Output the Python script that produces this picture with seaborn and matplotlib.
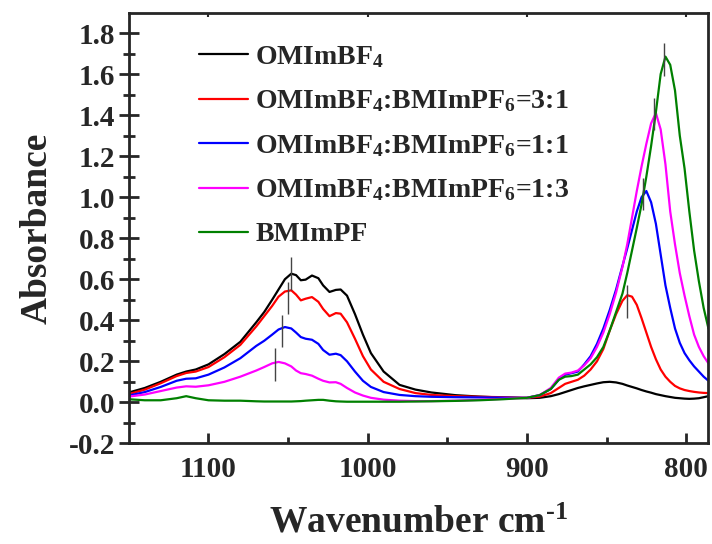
import numpy as np
import pandas as pd
import seaborn as sns
import matplotlib.pyplot as plt

# wavenumber grid (cm-1) shared by all spectra
wavenumber = [1150, 1140, 1130, 1120, 1114, 1108, 1100, 1090, 1080, 1070, 1065, 1060,
              1056, 1052, 1048, 1045, 1042, 1039, 1035, 1031, 1028, 1024, 1020, 1017,
              1013, 1008, 1003, 998, 990, 980, 970, 960, 945, 930, 915, 900, 892, 885,
              880, 876, 872, 868, 864, 860, 856, 852, 848, 844, 840, 837, 834, 831,
              828, 825, 822, 819, 816, 813, 810, 807, 804, 801, 798, 795, 792, 789, 786]

omimbf4 = [0.048, 0.07, 0.10, 0.135, 0.15, 0.16, 0.185, 0.235, 0.295, 0.39, 0.44, 0.50,
           0.55, 0.60, 0.627, 0.62, 0.595, 0.598, 0.618, 0.605, 0.57, 0.538, 0.548, 0.55,
           0.52, 0.43, 0.33, 0.24, 0.15, 0.085, 0.062, 0.048, 0.035, 0.028, 0.023, 0.02, 0.022, 0.03,
           0.04, 0.05, 0.06, 0.07, 0.078, 0.085, 0.092, 0.098, 0.10, 0.097, 0.09, 0.082, 0.075, 0.068,
           0.06, 0.053, 0.047, 0.04, 0.035, 0.03, 0.026, 0.022, 0.02, 0.018, 0.017, 0.018, 0.02, 0.025, 0.03]

mix_3_1 = [0.04, 0.062, 0.093, 0.128, 0.143, 0.15, 0.172, 0.22, 0.28, 0.37, 0.42, 0.47,
           0.515, 0.54, 0.546, 0.525, 0.497, 0.505, 0.513, 0.49, 0.455, 0.42, 0.435, 0.432,
           0.39, 0.31, 0.225, 0.16, 0.10, 0.065, 0.045, 0.036, 0.03, 0.027, 0.025, 0.022, 0.028, 0.045,
           0.07, 0.09, 0.10, 0.11, 0.13, 0.16, 0.20, 0.26, 0.35, 0.43, 0.495, 0.522, 0.515, 0.475,
           0.41, 0.34, 0.27, 0.21, 0.16, 0.125, 0.10, 0.08, 0.068, 0.06, 0.055, 0.051, 0.048, 0.046, 0.045]

mix_1_1 = [0.033, 0.05, 0.075, 0.105, 0.115, 0.117, 0.135, 0.17, 0.215, 0.275, 0.30, 0.33,
           0.355, 0.367, 0.36, 0.34, 0.318, 0.31, 0.305, 0.285, 0.255, 0.232, 0.237, 0.23,
           0.20, 0.15, 0.105, 0.075, 0.05, 0.036, 0.03, 0.027, 0.025, 0.024, 0.023, 0.022, 0.035, 0.065,
           0.11, 0.135, 0.142, 0.15, 0.185, 0.225, 0.285, 0.36, 0.45, 0.55, 0.665, 0.75, 0.84, 0.93,
           1.0, 1.03, 0.975, 0.87, 0.72, 0.57, 0.46, 0.36, 0.29, 0.24, 0.205, 0.175, 0.15, 0.125, 0.105]

mix_1_3 = [0.028, 0.038, 0.055, 0.072, 0.078, 0.076, 0.083, 0.10, 0.125, 0.155, 0.172, 0.19,
           0.197, 0.19, 0.175, 0.155, 0.142, 0.138, 0.13, 0.115, 0.105, 0.097, 0.098, 0.09,
           0.07, 0.048, 0.033, 0.022, 0.013, 0.008, 0.006, 0.006, 0.008, 0.012, 0.017, 0.022, 0.035, 0.07,
           0.12, 0.14, 0.145, 0.155, 0.18, 0.215, 0.27, 0.34, 0.43, 0.535, 0.66, 0.77, 0.90, 1.03,
           1.15, 1.26, 1.36, 1.41, 1.33, 1.16, 0.93, 0.77, 0.63, 0.52, 0.42, 0.33, 0.27, 0.225, 0.19]

bmimpf = [0.015, 0.01, 0.01, 0.02, 0.03, 0.02, 0.01, 0.008, 0.008, 0.005, 0.004, 0.004,
          0.004, 0.004, 0.004, 0.005, 0.006, 0.008, 0.01, 0.012, 0.012, 0.008, 0.005, 0.004,
          0.003, 0.003, 0.003, 0.003, 0.003, 0.003, 0.004, 0.005, 0.007, 0.01, 0.015, 0.022, 0.035, 0.065,
          0.11, 0.125, 0.128, 0.135, 0.16, 0.185, 0.22, 0.27, 0.35, 0.44, 0.53, 0.63, 0.74, 0.85,
          0.965, 1.10, 1.25, 1.415, 1.60, 1.685, 1.645, 1.52, 1.30, 1.14, 0.93, 0.74, 0.59, 0.46, 0.36]

labels = [r'OMImBF$_4$', r'OMImBF$_4$:BMImPF$_6$=3:1', r'OMImBF$_4$:BMImPF$_6$=1:1',
          r'OMImBF$_4$:BMImPF$_6$=1:3', 'BMImPF']
colors = ['black', '#ff0000', '#0000ff', '#ff00ff', '#008000']

# peak position markers
peak_x = [1048, 1050, 1054, 1058, 814, 820, 827, 837]
peak_lo = [0.549, 0.432, 0.272, 0.106, 1.591, 1.327, 0.936, 0.41]
peak_hi = [0.708, 0.586, 0.428, 0.266, 1.751, 1.482, 1.091, 0.57]

sns.set_style('ticks')
plt.rcParams['font.family'] = ['Liberation Serif', 'DejaVu Serif']
plt.rcParams['font.weight'] = 'bold'
plt.rcParams['mathtext.fontset'] = 'custom'
plt.rcParams['mathtext.rm'] = 'Liberation Serif:bold'
plt.rcParams['mathtext.it'] = 'Liberation Serif:bold'
plt.rcParams['mathtext.bf'] = 'Liberation Serif:bold'
plt.rcParams['axes.unicode_minus'] = False

fig = plt.figure(figsize=(7.12, 5.44), dpi=100)
ax = fig.add_axes([0.181, 0.185, 0.814, 0.792])

series = [omimbf4, mix_3_1, mix_1_1, mix_1_3, bmimpf]
for ys, lab, c in zip(series, labels, colors):
    sns.lineplot(x=wavenumber, y=ys, color=c, label=lab, lw=1.6, ax=ax, sort=False)

ax.vlines(peak_x, peak_lo, peak_hi, color='#444444', lw=1.0)

ax.set_xlim(1150, 786)
ax.set_ylim(-0.2, 1.9)
ax.set_xticks([1100, 1000, 900, 800])
ax.set_xticks([1050, 950, 850], minor=True)
ax.set_yticks(np.arange(-0.2, 1.81, 0.2))
ax.set_yticks(np.arange(-0.1, 1.81, 0.2), minor=True)
ax.set_yticklabels(['%.1f' % v for v in np.arange(-0.2, 1.81, 0.2)])

for s in ax.spines.values():
    s.set_linewidth(2)
ax.tick_params(axis='x', which='major', direction='in', length=7, width=2, labelsize=21, pad=9)
ax.tick_params(axis='x', which='minor', direction='in', length=4, width=2)
ax.tick_params(axis='y', which='major', direction='inout', length=14, width=2, labelsize=21, pad=3)
ax.tick_params(axis='y', which='minor', direction='inout', length=8, width=2)
for t in ax.get_xticklabels() + ax.get_yticklabels():
    t.set_fontweight('bold')

# short ticks on the top spine
top = ax.secondary_xaxis('top')
top.set_xticks([1100, 1000, 900, 800])
top.tick_params(direction='in', length=3, width=1.5, labeltop=False)

ax.set_xlabel(r'Wavenumber cm$^{\text{-1}}$', fontsize=27, fontweight='bold', labelpad=16)
ax.set_ylabel('Absorbance', fontsize=27, fontweight='bold', labelpad=10)

leg = ax.legend(loc='upper left', bbox_to_anchor=(0.078, 0.985), frameon=False,
                prop={'size': 20, 'weight': 'bold'}, handlelength=1.75,
                handletextpad=0.28, labelspacing=0.67)

plt.savefig('out.png', dpi=100)
